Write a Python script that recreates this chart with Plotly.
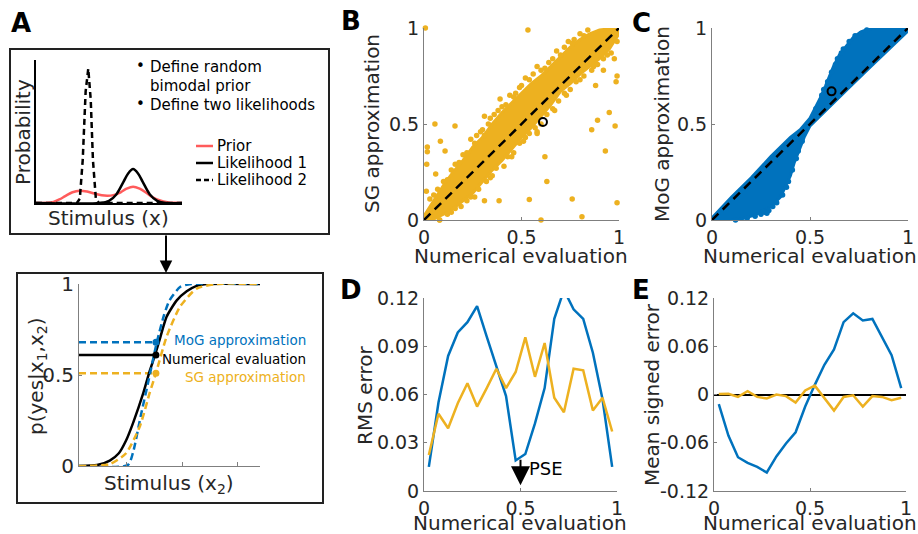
import plotly.graph_objects as go

W, H = 918, 534
def px(x): return x / W
def py(y): return 1 - y / H

BLUE = "#0072BD"
ORANGE = "#EDB120"
RED = "#FF5B5B"
TXT = "#262626"
AX = "#7f7f7f"
FONT = "DejaVu Sans"

# ---------------- Panel A (top) : prior and likelihoods ----------------
prior_x = [0.0, 0.08, 0.12, 0.16, 0.2, 0.25, 0.3, 0.35, 0.4, 0.45, 0.49, 0.53, 0.58, 0.62, 0.665, 0.71, 0.76, 0.8, 0.85, 0.9, 0.95, 1.0]
prior_y = [0.0, 0.002, 0.008, 0.025, 0.048, 0.075, 0.086, 0.08, 0.066, 0.054, 0.051, 0.055, 0.075, 0.1, 0.114, 0.1, 0.068, 0.04, 0.018, 0.006, 0.001, 0.0]
lik1_x = [0.0, 0.44, 0.5, 0.55, 0.6, 0.63, 0.665, 0.7, 0.73, 0.78, 0.83, 0.89, 1.0]
lik1_y = [0.0, 0.0, 0.015, 0.06, 0.15, 0.205, 0.237, 0.205, 0.15, 0.06, 0.015, 0.0, 0.0]
lik2_x = [0.0, 0.28, 0.3, 0.32, 0.34, 0.358, 0.375, 0.39, 0.41, 0.43, 1.0]
lik2_y = [0.0, 0.0, 0.03, 0.3, 0.78, 0.94, 0.72, 0.3, 0.03, 0.0, 0.0]

# ---------------- Panel A (bottom) : psychometric curves ----------------
num_x = [0, 0.1, 0.17, 0.22, 0.26, 0.3, 0.355, 0.39, 0.42, 0.45, 0.484, 0.54, 0.595, 0.65, 0.705, 1.0]
num_y = [0, 0.005, 0.03, 0.07, 0.14, 0.24, 0.40, 0.52, 0.61, 0.71, 0.82, 0.91, 0.96, 0.99, 1.0, 1.0]
mog_x = [0, 0.27, 0.30, 0.34, 0.38, 0.43, 0.47, 0.50, 0.56, 0.62, 1.0]
mog_y = [0, 0.005, 0.08, 0.27, 0.45, 0.68, 0.83, 0.91, 0.985, 1.0, 1.0]
sg_x = [0, 0.17, 0.26, 0.337, 0.39, 0.425, 0.484, 0.558, 0.65, 0.76, 1.0]
sg_y = [0, 0.01, 0.07, 0.22, 0.40, 0.51, 0.71, 0.875, 0.975, 1.0, 1.0]
pse_x = 0.425
pse_num, pse_mog, pse_sg = 0.61, 0.68, 0.51

# ---------------- Panel B : SG vs numerical ----------------
B_band_x = [0, 0.05, 0.1, 0.15, 0.2, 0.25, 0.3, 0.35, 0.4, 0.45, 0.5, 0.55, 0.6, 0.65, 0.7, 0.75, 0.8, 0.85, 0.9, 1.0,
            1.0, 0.95, 0.9, 0.85, 0.8, 0.75, 0.7, 0.65, 0.6, 0.55, 0.5, 0.45, 0.4, 0.35, 0.3, 0.25, 0.2, 0.15, 0.1, 0.05, 0]
B_band_y = [0.02, 0.1, 0.18, 0.25, 0.31, 0.38, 0.43, 0.5, 0.56, 0.61, 0.66, 0.71, 0.75, 0.8, 0.85, 0.9, 0.94, 0.97, 0.99, 1.0,
            0.97, 0.89, 0.84, 0.8, 0.76, 0.71, 0.67, 0.6, 0.54, 0.48, 0.43, 0.37, 0.31, 0.26, 0.2, 0.14, 0.1, 0.06, 0.03, 0.005, 0.0]
B_pts_x = [0.03, 0.07, 0.12, 0.14, 0.18, 0.22, 0.24, 0.27, 0.3, 0.33, 0.36, 0.38, 0.42, 0.44, 0.47, 0.5, 0.52, 0.56, 0.58, 0.62,
           0.66, 0.68, 0.72, 0.74, 0.77, 0.8, 0.84,
           0.05, 0.1, 0.16, 0.2, 0.26, 0.29, 0.34, 0.4, 0.46, 0.49, 0.54, 0.6, 0.64, 0.7, 0.76, 0.82,
           0.08, 0.12, 0.16, 0.19, 0.22, 0.26, 0.28, 0.32, 0.34, 0.37, 0.41, 0.43, 0.46, 0.49, 0.52, 0.54, 0.57, 0.6, 0.63,
           0.66, 0.69, 0.72, 0.75, 0.78, 0.82, 0.86, 0.89, 0.92, 0.96, 0.99,
           0.14, 0.24, 0.35, 0.45, 0.51, 0.58, 0.67, 0.73, 0.8, 0.87, 0.94,
           0.007, 0.533, 0.056, 0.159, 0.017, 0.017, 0.014, 0.084, 0.108, 0.06, 0.012, 0.31, 0.31, 0.39, 0.31, 0.385,
           0.54, 0.62, 0.63, 0.60, 0.76, 0.81, 0.89, 0.95, 0.98, 0.86, 0.93, 0.99, 0.985, 0.99, 0.976, 0.92, 0.88, 0.08, 0.58]
B_pts_y = [0.11, 0.16, 0.21, 0.26, 0.3, 0.35, 0.42, 0.44, 0.47, 0.5, 0.55, 0.57, 0.6, 0.65, 0.66, 0.7, 0.74, 0.76, 0.8, 0.79,
           0.84, 0.88, 0.9, 0.93, 0.94, 0.97, 0.99,
           0.13, 0.2, 0.29, 0.34, 0.4, 0.46, 0.53, 0.59, 0.64, 0.69, 0.73, 0.78, 0.82, 0.86, 0.92, 0.96,
           0.0, 0.03, 0.06, 0.07, 0.1, 0.12, 0.16, 0.2, 0.22, 0.27, 0.28, 0.33, 0.35, 0.4, 0.43, 0.45, 0.48, 0.5, 0.55,
           0.58, 0.62, 0.66, 0.68, 0.72, 0.75, 0.78, 0.81, 0.84, 0.87, 0.93,
           0.04, 0.12, 0.23, 0.33, 0.41, 0.46, 0.57, 0.65, 0.73, 0.8, 0.86,
           1.0, 0.99, 0.5, 0.49, 0.38, 0.355, 0.29, 0.41, 0.36, 0.24, 0.15, 0.54, 0.44, 0.63, 0.10, 0.10,
           0.107, 0.33, 0.20, 0.0, 0.11, 0.017, 0.52, 0.56, 0.49, 0.47, 0.36, 0.09, 0.72, 0.75, 0.84, 0.78, 0.70, 0.0, 0.45]
B_mark = (0.61, 0.51)

# ---------------- Panel C : MoG vs numerical ----------------
C_band_x = [0, 0.1, 0.2, 0.3, 0.4, 0.45, 0.5, 0.55, 0.58, 0.6, 0.62, 0.65, 0.68, 0.72, 0.76, 0.8, 0.85, 1.0,
            1.0, 0.9, 0.8, 0.7, 0.6, 0.55, 0.5, 0.47, 0.45, 0.42, 0.4, 0.37, 0.35, 0.3, 0.25, 0.2, 0.15, 0.1, 0]
C_band_y = [0.01, 0.12, 0.22, 0.33, 0.43, 0.47, 0.53, 0.63, 0.70, 0.75, 0.80, 0.86, 0.90, 0.95, 0.98, 0.995, 1.0, 1.0,
            0.985, 0.89, 0.79, 0.69, 0.59, 0.54, 0.49, 0.43, 0.38, 0.30, 0.23, 0.16, 0.12, 0.07, 0.04, 0.02, 0.005, 0.0, 0.0]
C_pts_x = [0.12, 0.18, 0.22, 0.25, 0.27, 0.29, 0.31, 0.33, 0.36, 0.38, 0.39, 0.41, 0.43, 0.44, 0.46, 0.26, 0.28,
           0.53, 0.56, 0.57, 0.59, 0.61, 0.63, 0.64, 0.66, 0.67, 0.7, 0.73, 0.76, 0.79]
C_pts_y = [0.0, 0.01, 0.02, 0.03, 0.04, 0.05, 0.07, 0.09, 0.13, 0.17, 0.2, 0.26, 0.32, 0.36, 0.41, 0.045, 0.035,
           0.58, 0.65, 0.68, 0.72, 0.77, 0.81, 0.84, 0.87, 0.89, 0.93, 0.96, 0.97, 0.99]
C_mark = (0.61, 0.67)

diag = [0, 1]

# ---------------- Panels D / E : binned errors ----------------
bins = [0.025, 0.075, 0.125, 0.175, 0.225, 0.275, 0.325, 0.375, 0.425, 0.475,
        0.525, 0.575, 0.625, 0.675, 0.725, 0.775, 0.825, 0.875, 0.925, 0.975]
rms_mog = [0.015, 0.055, 0.084, 0.0986, 0.105, 0.115, 0.096, 0.078, 0.059, 0.019,
           0.023, 0.042, 0.064, 0.107, 0.125, 0.113, 0.107, 0.086, 0.057, 0.015]
rms_sg = [0.0224, 0.048, 0.039, 0.0546, 0.067, 0.0525, 0.064, 0.076, 0.064, 0.074,
          0.0955, 0.071, 0.092, 0.058, 0.049, 0.076, 0.075, 0.050, 0.058, 0.037]
mse_mog = [-0.012, -0.051, -0.078, -0.085, -0.090, -0.097, -0.077, -0.061, -0.047, -0.015,
           0.012, 0.037, 0.056, 0.090, 0.101, 0.092, 0.094, 0.072, 0.049, 0.008]
mse_sg = [0.0005, 0.001, -0.003, 0.004, -0.003, -0.005, 0.0, -0.002, -0.010, 0.005,
          0.011, -0.005, -0.020, -0.003, -0.001, -0.015, -0.002, -0.003, -0.007, -0.004]

fig = go.Figure()

# Panel A top
fig.add_trace(go.Scatter(x=prior_x, y=prior_y, mode="lines", line=dict(color=RED, width=2.5, shape="spline"), xaxis="x", yaxis="y"))
fig.add_trace(go.Scatter(x=lik1_x, y=lik1_y, mode="lines", line=dict(color="black", width=2.5, shape="spline", smoothing=0.8), xaxis="x", yaxis="y"))
fig.add_trace(go.Scatter(x=lik2_x, y=lik2_y, mode="lines", line=dict(color="black", width=2.5, dash="6px,4px"), xaxis="x", yaxis="y"))

# Panel A bottom
fig.add_trace(go.Scatter(x=[0, pse_x], y=[pse_mog, pse_mog], mode="lines", line=dict(color=BLUE, width=2.5, dash="7px,4px"), xaxis="x2", yaxis="y2"))
fig.add_trace(go.Scatter(x=[0, pse_x], y=[pse_sg, pse_sg], mode="lines", line=dict(color=ORANGE, width=2.5, dash="7px,4px"), xaxis="x2", yaxis="y2"))
fig.add_trace(go.Scatter(x=[0, pse_x], y=[pse_num, pse_num], mode="lines", line=dict(color="black", width=2.5), xaxis="x2", yaxis="y2"))
fig.add_trace(go.Scatter(x=num_x, y=num_y, mode="lines", line=dict(color="black", width=2.5, shape="spline", smoothing=0.6), xaxis="x2", yaxis="y2"))
fig.add_trace(go.Scatter(x=mog_x, y=mog_y, mode="lines", line=dict(color=BLUE, width=2.5, dash="7px,4px", shape="spline", smoothing=0.6), xaxis="x2", yaxis="y2"))
fig.add_trace(go.Scatter(x=sg_x, y=sg_y, mode="lines", line=dict(color=ORANGE, width=2.5, dash="7px,4px", shape="spline", smoothing=0.6), xaxis="x2", yaxis="y2"))
fig.add_trace(go.Scatter(x=[pse_x, pse_x, pse_x], y=[pse_mog, pse_sg, pse_num], mode="markers",
                         marker=dict(color=[BLUE, ORANGE, "black"], size=7), xaxis="x2", yaxis="y2"))

# Panel B
fig.add_trace(go.Scatter(x=B_band_x, y=B_band_y, mode="lines", fill="toself", fillcolor=ORANGE,
                         line=dict(color=ORANGE, width=3), xaxis="x3", yaxis="y3"))
fig.add_trace(go.Scatter(x=B_pts_x, y=B_pts_y, mode="markers", marker=dict(color=ORANGE, size=5.5),
                         cliponaxis=False, xaxis="x3", yaxis="y3"))
fig.add_trace(go.Scatter(x=diag, y=diag, mode="lines", line=dict(color="black", width=2.5, dash="9px,6px"), xaxis="x3", yaxis="y3"))
fig.add_trace(go.Scatter(x=[B_mark[0]], y=[B_mark[1]], mode="markers",
                         marker=dict(symbol="circle-open", color="black", size=8, line=dict(width=2)), xaxis="x3", yaxis="y3"))

# Panel C
fig.add_trace(go.Scatter(x=C_band_x, y=C_band_y, mode="lines", fill="toself", fillcolor=BLUE,
                         line=dict(color=BLUE, width=3), xaxis="x4", yaxis="y4"))
fig.add_trace(go.Scatter(x=C_pts_x, y=C_pts_y, mode="markers", marker=dict(color=BLUE, size=5.5),
                         cliponaxis=False, xaxis="x4", yaxis="y4"))
fig.add_trace(go.Scatter(x=diag, y=diag, mode="lines", line=dict(color="black", width=2.5, dash="9px,6px"), xaxis="x4", yaxis="y4"))
fig.add_trace(go.Scatter(x=[C_mark[0]], y=[C_mark[1]], mode="markers",
                         marker=dict(symbol="circle-open", color="black", size=8, line=dict(width=2)), xaxis="x4", yaxis="y4"))

# Panel D
fig.add_trace(go.Scatter(x=bins, y=rms_mog, mode="lines", line=dict(color=BLUE, width=2.5), xaxis="x5", yaxis="y5"))
fig.add_trace(go.Scatter(x=bins, y=rms_sg, mode="lines", line=dict(color=ORANGE, width=2.5), xaxis="x5", yaxis="y5"))

# Panel E
fig.add_trace(go.Scatter(x=bins, y=mse_mog, mode="lines", line=dict(color=BLUE, width=2.5), xaxis="x6", yaxis="y6"))
fig.add_trace(go.Scatter(x=bins, y=mse_sg, mode="lines", line=dict(color=ORANGE, width=2.5), xaxis="x6", yaxis="y6"))

tickfont = dict(family=FONT, size=19, color=TXT)

def xax(dom, anchor, **kw):
    d = dict(domain=[px(dom[0]), px(dom[1])], anchor=anchor, range=[0, 1], showgrid=False, zeroline=False,
             showline=True, linecolor=AX, linewidth=1, ticks="inside", ticklen=3, tickcolor=AX,
             tickvals=[0, 0.5, 1], ticktext=["0", "0.5", "1"], tickfont=tickfont, fixedrange=True)
    d.update(kw)
    return d

def yax(dom, anchor, **kw):
    d = dict(domain=[py(dom[1]), py(dom[0])], anchor=anchor, range=[0, 1], showgrid=False, zeroline=False,
             showline=True, linecolor=AX, linewidth=1, ticks="inside", ticklen=3, tickcolor=AX,
             tickvals=[0, 0.5, 1], ticktext=["0", "0.5", "1"], tickfont=tickfont, fixedrange=True)
    d.update(kw)
    return d

layout = dict(
    width=W, height=H, margin=dict(l=0, r=0, t=0, b=0, autoexpand=False), showlegend=False,
    paper_bgcolor="white", plot_bgcolor="rgba(0,0,0,0)",
    font=dict(family=FONT, color=TXT),
    xaxis=xax((36, 182), "y", showticklabels=False, ticks="", linecolor="black", linewidth=1.5),
    yaxis=yax((60, 203), "x", showticklabels=False, ticks="", linecolor="black", linewidth=1.5, range=[0, 1]),
    xaxis2=xax((79, 260), "y2", tickvals=[0.265, 0.57, 0.875], showticklabels=False, ticklen=4),
    yaxis2=yax((284, 466), "x2", tickfont=dict(family=FONT, size=20, color=TXT)),
    xaxis3=xax((424, 619), "y3"),
    yaxis3=yax((28, 220), "x3"),
    xaxis4=xax((712, 908), "y4"),
    yaxis4=yax((28, 220), "x4"),
    xaxis5=xax((424, 617), "y5"),
    yaxis5=yax((298, 491), "x5", range=[0, 0.12], tickvals=[0, 0.03, 0.06, 0.09, 0.12],
               ticktext=["0", "0.03", "0.06", "0.09", "0.12"]),
    xaxis6=xax((714, 906), "y6"),
    yaxis6=yax((298, 491), "x6", range=[-0.12, 0.12], tickvals=[-0.12, -0.06, 0, 0.06, 0.12],
               ticktext=["-0.12", "-0.06", "0", "0.06", "0.12"], zeroline=True, zerolinecolor="black", zerolinewidth=1.5),
)
fig.update_layout(**layout)

ann = []
def txt(x, y, s, size=20, color=TXT, xanchor="center", angle=0, bold=False, yanchor="middle"):
    ann.append(dict(x=px(x), y=py(y), xref="paper", yref="paper", text=("<b>%s</b>" % s) if bold else s,
                    showarrow=False, xanchor=xanchor, yanchor=yanchor, textangle=angle,
                    font=dict(family=FONT, size=size, color=color)))

# panel letters
for L, (x, y) in {"A": (21, 23), "B": (351, 21), "C": (641, 23), "D": (351, 290), "E": (641, 290)}.items():
    txt(x, y, L, size=26, color="black", bold=True)

# panel A top texts
txt(23, 132, "Probability", size=20, angle=-90)
txt(108, 218, "Stimulus (x)", size=20)
txt(140, 66, "•", size=15, color="black")
txt(148, 67, "Define random", size=15, color="black", xanchor="left")
txt(148, 86, "bimodal prior", size=15, color="black", xanchor="left")
txt(140, 104, "•", size=15, color="black")
txt(148, 105, "Define two likelihoods", size=15, color="black", xanchor="left")
txt(215, 146, "Prior", size=15, color="black", xanchor="left")
txt(215, 163, "Likelihood 1", size=15, color="black", xanchor="left")
txt(215, 180, "Likelihood 2", size=15, color="black", xanchor="left")

# panel A bottom texts
txt(37, 376, "p(yes|x<sub>1</sub>,x<sub>2</sub>)", size=20, angle=-90)
txt(169, 484, "Stimulus (x<sub>2</sub>)", size=20)
txt(308, 340, "MoG approximation", size=13.5, color=BLUE, xanchor="right")
txt(308, 359, "Numerical evaluation", size=13.5, color="black", xanchor="right")
txt(308, 377, "SG approximation", size=13.5, color=ORANGE, xanchor="right")

# axis titles
txt(372, 124, "SG approximation", size=20, angle=-90)
txt(662, 124, "MoG approximation", size=20, angle=-90)
txt(365, 396, "RMS error", size=20, angle=-90)
txt(652, 395, "Mean signed error", size=20, angle=-90)
txt(521, 256, "Numerical evaluation", size=20)
txt(810, 256, "Numerical evaluation", size=20)
txt(520, 522.5, "Numerical evaluation", size=20)
txt(810, 522.5, "Numerical evaluation", size=20)

# PSE arrow in D
ann.append(dict(x=0.5, y=0.0035, xref="x5", yref="y5", ax=0, ay=-27, axref="pixel", ayref="pixel",
                showarrow=True, arrowhead=2, arrowsize=1.9, arrowwidth=2, arrowcolor="black", text=""))
ann.append(dict(x=0.535, y=0.0137, xref="x5", yref="y5", text="PSE", showarrow=False, xanchor="left",
                font=dict(family=FONT, size=18, color="black")))
# arrow between the boxes
ann.append(dict(x=px(166), y=py(273), xref="paper", yref="paper", ax=0, ay=-39, showarrow=True,
                arrowhead=2, arrowsize=1.25, arrowwidth=2, arrowcolor="black", text=""))
fig.update_layout(annotations=ann)

shapes = [
    dict(type="rect", xref="paper", yref="paper", x0=px(10), x1=px(329), y0=py(234), y1=py(49),
         line=dict(color="#222", width=2)),
    dict(type="rect", xref="paper", yref="paper", x0=px(17), x1=px(323), y0=py(503), y1=py(273),
         line=dict(color="#222", width=2)),
    dict(type="line", xref="paper", yref="paper", x0=px(196), x1=px(213), y0=py(146), y1=py(146),
         line=dict(color=RED, width=2.5)),
    dict(type="line", xref="paper", yref="paper", x0=px(196), x1=px(213), y0=py(163), y1=py(163),
         line=dict(color="black", width=2.5)),
    dict(type="line", xref="paper", yref="paper", x0=px(196), x1=px(213), y0=py(180), y1=py(180),
         line=dict(color="black", width=2.5, dash="5px,3px")),
]
fig.update_layout(shapes=shapes)

fig.write_html("out.html")
